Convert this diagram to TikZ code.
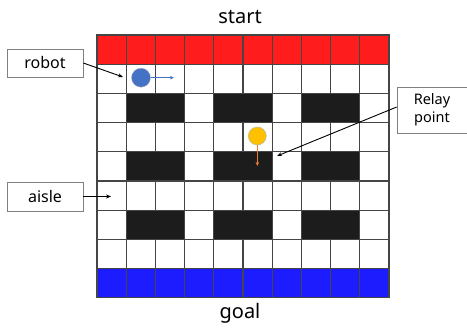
\documentclass[tikz,border=0pt]{standalone}
\usepackage{fontspec}
\setmainfont{Noto Sans}
\usetikzlibrary{arrows.meta}
\definecolor{startred}{HTML}{FF1C1C}
\definecolor{goalblue}{HTML}{1C1CFF}
\definecolor{robotblue}{HTML}{4472C4}
\definecolor{relayyellow}{HTML}{FFC000}
\definecolor{relayorange}{HTML}{ED7D31}
\definecolor{gridgray}{HTML}{454545}
\definecolor{shelfblack}{HTML}{1C1C1C}

\begin{document}
\begin{tikzpicture}[x=1pt,y=-1pt,
  cell/.style={draw=gridgray, line width=1.1pt},
  labelbox/.style={draw=gray, line width=0.6pt, fill=white, inner sep=0pt,
    font=\fontsize{16}{18}\selectfont},
  pointer/.style={-{Stealth[length=5pt,width=4pt]}, line width=0.9pt}]
\useasboundingbox (0,0) rectangle (467,331);

% Grid: 10 columns, 9 rows
\foreach \c in {0,...,9} {
  \foreach \r in {1,...,7}
    \draw[cell, fill=white] (97+29.2*\c,35+29.2*\r) rectangle ++(29.2,29.2);
  \draw[cell, fill=startred] (97+29.2*\c,35) rectangle ++(29.2,29.2);
  \draw[cell, fill=goalblue] (97+29.2*\c,268.6) rectangle ++(29.2,29.2);
}

% Shelves
\foreach \r in {2,4,6} {
  \foreach \c in {1,4,7}
    \draw[cell, fill=shelfblack] (97+29.2*\c,35+29.2*\r) rectangle ++(58.4,29.2);
}

\node[font=\fontsize{20}{22}\selectfont] (start) at (240,17) {start};
\node[font=\fontsize{20}{22}\selectfont] (goal) at (240,313) {goal};

% Robot and relay point
\node[circle, fill=robotblue, draw=gray!60, inner sep=0pt, minimum size=19pt] (robot) at (141,77.7) {};
\coordinate (robotgo) at (174,77.7);
\draw[-{Stealth[length=4pt,width=3.5pt]}, robotblue, line width=1pt] (robot) -- (robotgo);

\node[circle, fill=relayyellow, draw=gray!60, inner sep=0pt, minimum size=18pt] (relay) at (257.3,136) {};
\coordinate (relaygo) at (257.3,166);
\draw[-{Stealth[length=4pt,width=3.5pt]}, relayorange, line width=1pt] (relay) -- (relaygo);

% Labels
\node[labelbox, minimum width=76pt, minimum height=28pt] (robotlabel) at (45,63) {robot};
\coordinate (robottip) at (123,77);
\draw[pointer] (robotlabel.east) -- (robottip);

\node[labelbox, minimum width=76pt, minimum height=29pt] (aislelabel) at (45,196.5) {aisle};
\coordinate (aisletip) at (111,196.5);
\draw[pointer] (aislelabel.east) -- (aisletip);

\node[labelbox, minimum width=70pt, minimum height=46pt, align=center,
  font=\fontsize{14.5}{18}\selectfont] (relaylabel) at (432,110) {Relay\\point};
\coordinate (relaytip) at (277,156);
\draw[pointer] ([yshift=3pt]relaylabel.west) -- (relaytip);
\end{tikzpicture}
\end{document}
